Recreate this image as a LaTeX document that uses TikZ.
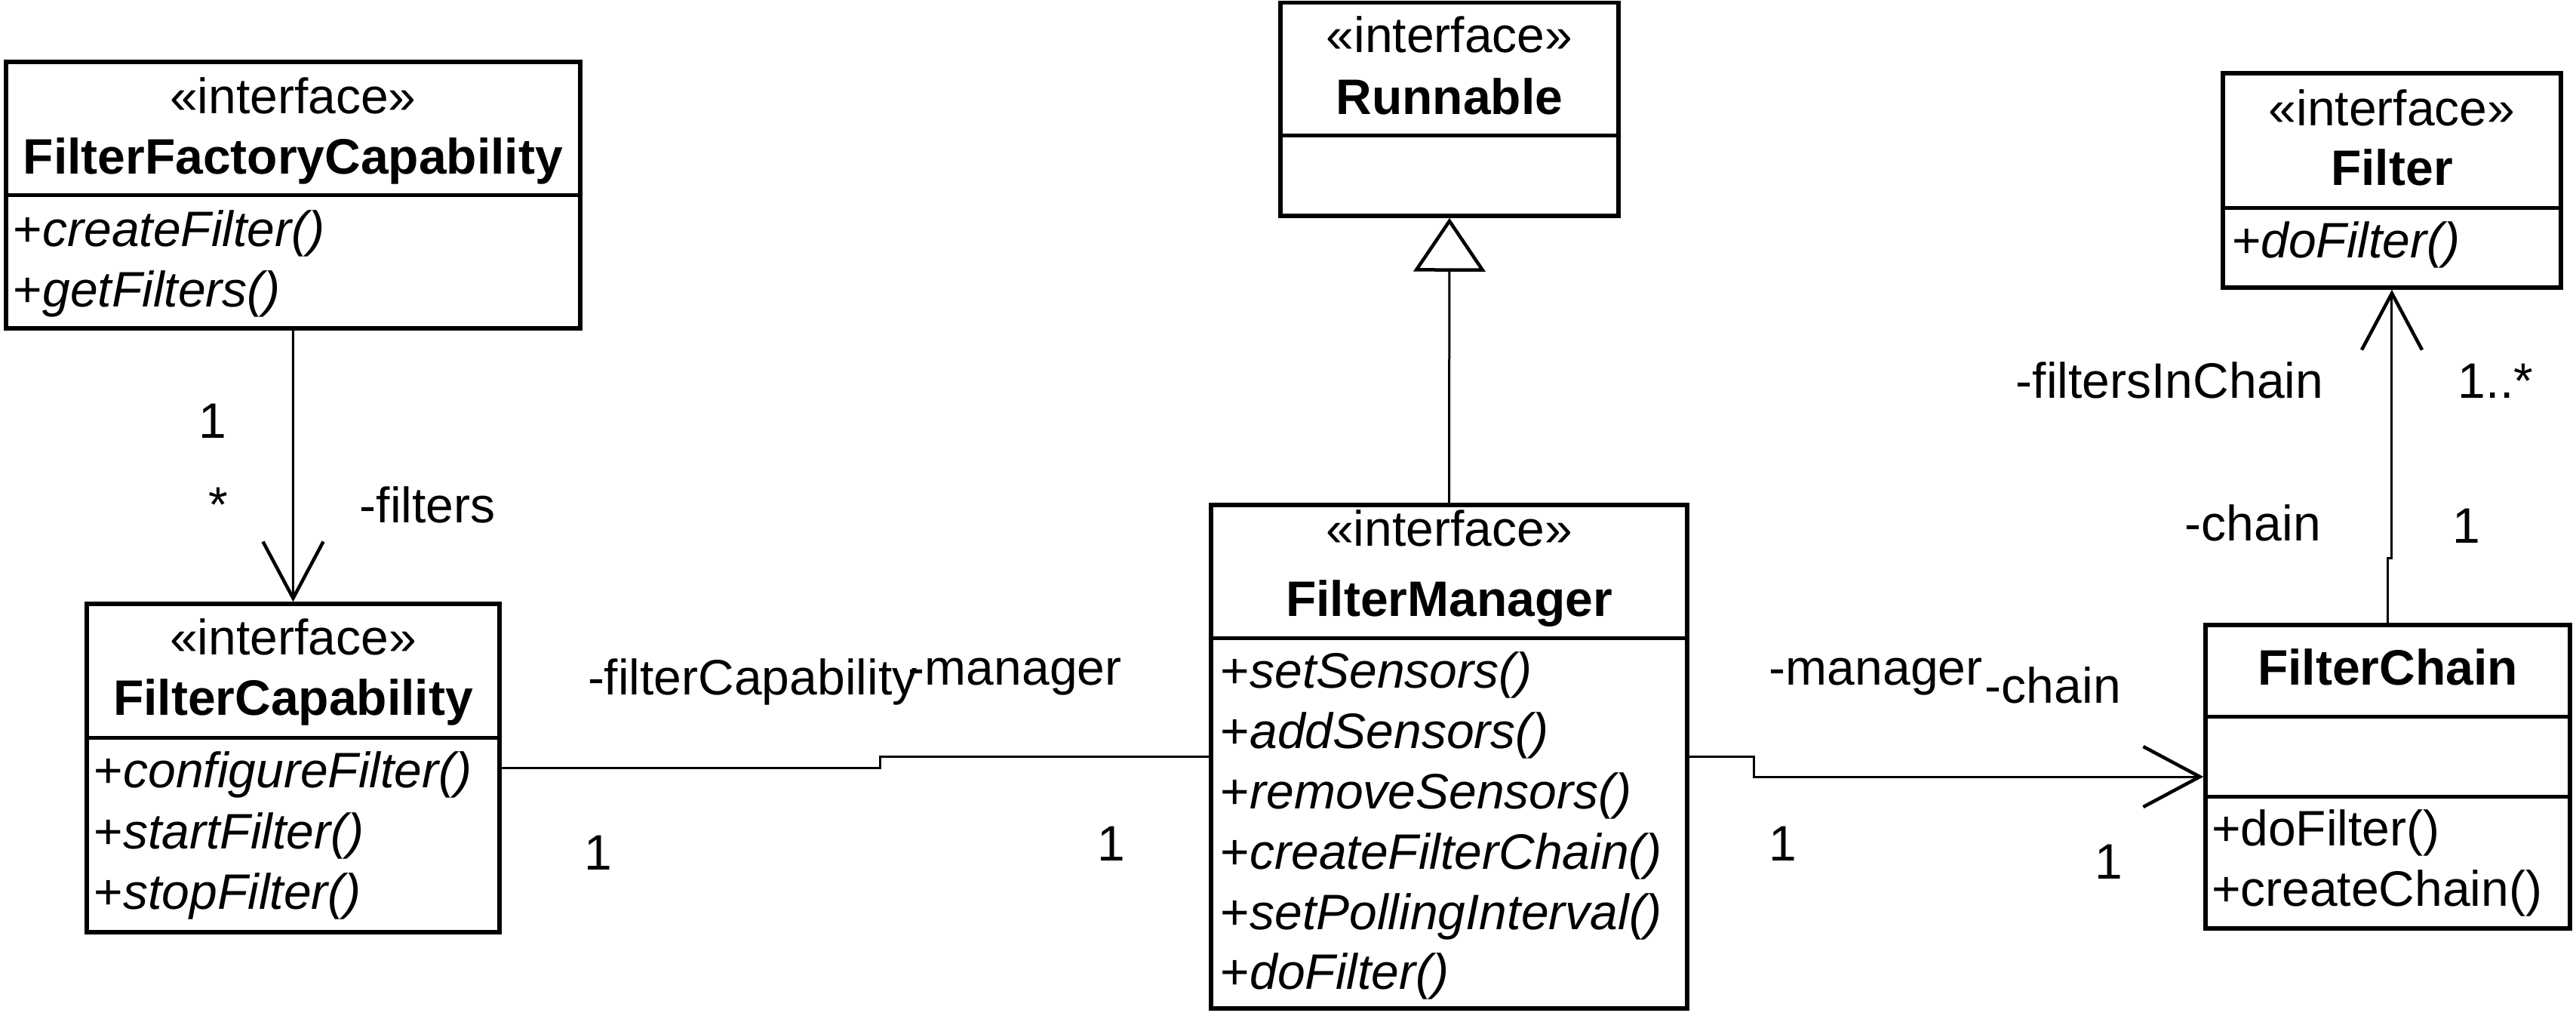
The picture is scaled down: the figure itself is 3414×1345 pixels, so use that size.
\documentclass[tikz,border=0pt]{standalone}
\usepackage{fontspec}
\setmainfont{Liberation Sans}
\usetikzlibrary{arrows.meta}
\begin{document}
\begin{tikzpicture}[x=0.1pt,y=-0.1pt,
  cls/.style={draw, line width=0.55pt, inner sep=0pt, fill=white},
  divider/.style={line width=0.5pt},
  txt/.style={inner sep=0pt, anchor=base, font=\fontsize{6.6pt}{8pt}\selectfont},
  bold/.style={txt, font=\fontsize{6.6pt}{8pt}\selectfont\bfseries},
  meth/.style={inner sep=0pt, anchor=base west, font=\fontsize{6.6pt}{8pt}\selectfont\itshape},
  methup/.style={inner sep=0pt, anchor=base west, font=\fontsize{6.6pt}{8pt}\selectfont},
  lbl/.style={inner sep=0pt, anchor=base west, font=\fontsize{6.6pt}{8pt}\selectfont},
  assoc/.style={line width=0.3pt},
  barb/.style={assoc, -{Straight Barb[length=7.5pt,width=8pt,line width=0.45pt]}},
  gen/.style={assoc, -{Triangle[open,length=7.1pt,width=9.5pt,line width=0.45pt]}}
]
\useasboundingbox (0,0) rectangle (3414,1345);

% ---------- classes ----------
\node[cls, minimum width=76.13pt, minimum height=35.3pt] (ffc) at (388.4,258.5) {};
\node[cls, minimum width=54.7pt, minimum height=43.5pt] (fc) at (388.5,1017.5) {};
\node[cls, minimum width=44.8pt, minimum height=28.24pt] (run) at (1921,144.8) {};
\node[cls, minimum width=63.1pt, minimum height=66.7pt] (fm) at (1920.5,1002.5) {};
\node[cls, minimum width=44.8pt, minimum height=28.4pt] (flt) at (3170,239) {};
\node[cls, minimum width=48.3pt, minimum height=40.2pt] (chain) at (3164.5,1029) {};

% dividers
\draw[divider] (ffc.west |- 0,258) -- (ffc.east |- 0,258);
\draw[divider] (fc.west |- 0,977) -- (fc.east |- 0,977);
\draw[divider] (run.west |- 0,179) -- (run.east |- 0,179);
\draw[divider] (fm.west |- 0,845) -- (fm.east |- 0,845);
\draw[divider] (flt.west |- 0,275) -- (flt.east |- 0,275);
\draw[divider] (chain.west |- 0,949) -- (chain.east |- 0,949);
\draw[divider] (chain.west |- 0,1055) -- (chain.east |- 0,1055);

% FilterFactoryCapability
\node[txt] (ffcs) at (388.4,150) {«interface»};
\node[bold] (ffcn) at (388.4,230) {FilterFactoryCapability};
\node[meth] (ffcm1) at (16,326) {\upshape+\itshape createFilter()};
\node[meth] (ffcm2) at (16,406) {\upshape+\itshape getFilters()};

% FilterCapability
\node[txt] (fcs) at (388.5,867) {«interface»};
\node[bold] (fcn) at (388.5,947) {FilterCapability};
\node[meth] (fcm1) at (123,1043) {\upshape+\itshape configureFilter()};
\node[meth] (fcm2) at (123,1124) {\upshape+\itshape startFilter()};
\node[meth] (fcm3) at (123,1204) {\upshape+\itshape stopFilter()};

% Runnable
\node[txt] (runs) at (1921,69) {«interface»};
\node[bold] (runn) at (1921,151) {Runnable};

% FilterManager
\node[txt] (fms) at (1920.5,723) {«interface»};
\node[bold] (fmn) at (1920.5,816) {FilterManager};
\node[meth] (fmm1) at (1616,911) {\upshape+\itshape setSensors()};
\node[meth] (fmm2) at (1616,991) {\upshape+\itshape addSensors()};
\node[meth] (fmm3) at (1616,1071) {\upshape+\itshape removeSensors()};
\node[meth] (fmm4) at (1616,1151) {\upshape+\itshape createFilterChain()};
\node[meth] (fmm5) at (1616,1231) {\upshape+\itshape setPollingInterval()};
\node[meth] (fmm6) at (1616,1310) {\upshape+\itshape doFilter()};

% Filter
\node[txt] (flts) at (3170,166) {«interface»};
\node[bold] (fltn) at (3170,245) {Filter};
\node[meth] (fltm1) at (2956,341) {\upshape+\itshape doFilter()};

% FilterChain
\node[bold] (chainn) at (3164.5,907) {FilterChain};
\node[methup] (chainm1) at (2929,1120) {+doFilter()};
\node[methup] (chainm2) at (2929,1200) {+createChain()};

% ---------- connectors ----------
\coordinate (b1) at (1167,0);
\coordinate (b2) at (2325,0);
\coordinate (b3) at (0,739);

\draw[barb] (ffc.south) -- (fc.north);
\draw[gen] (fm.north) -- (run.south);
\draw[assoc] (fc.east) -- (fc.east -| b1) |- (fm.west);
\draw[barb] (fm.east) -- (fm.east -| b2) |- (chain.west);
\draw[barb] (chain.north) -- (chain.north |- b3) -| (flt.south);

% ---------- labels ----------
\node[lbl] (l1) at (261,580) {1};
\node[lbl] (l2) at (274,691) {*};
\node[lbl] (l3) at (475,692) {-filters};
\node[lbl] (l4) at (777,920) {-filterCapability};
\node[lbl] (l5) at (773,1152) {1};
\node[lbl] (l6) at (1202,907) {-manager};
\node[lbl] (l7) at (1453,1140) {1};
\node[lbl] (l8) at (2343,907) {-manager};
\node[lbl] (l9) at (2629,931) {-chain};
\node[lbl] (l10) at (2343,1140) {1};
\node[lbl] (l11) at (2775,1164) {1};
\node[lbl] (l12) at (2670,527) {-filtersInChain};
\node[lbl] (l13) at (3256,527) {1..*};
\node[lbl] (l14) at (2894,716) {-chain};
\node[lbl] (l15) at (3249,719) {1};
\end{tikzpicture}
\end{document}
